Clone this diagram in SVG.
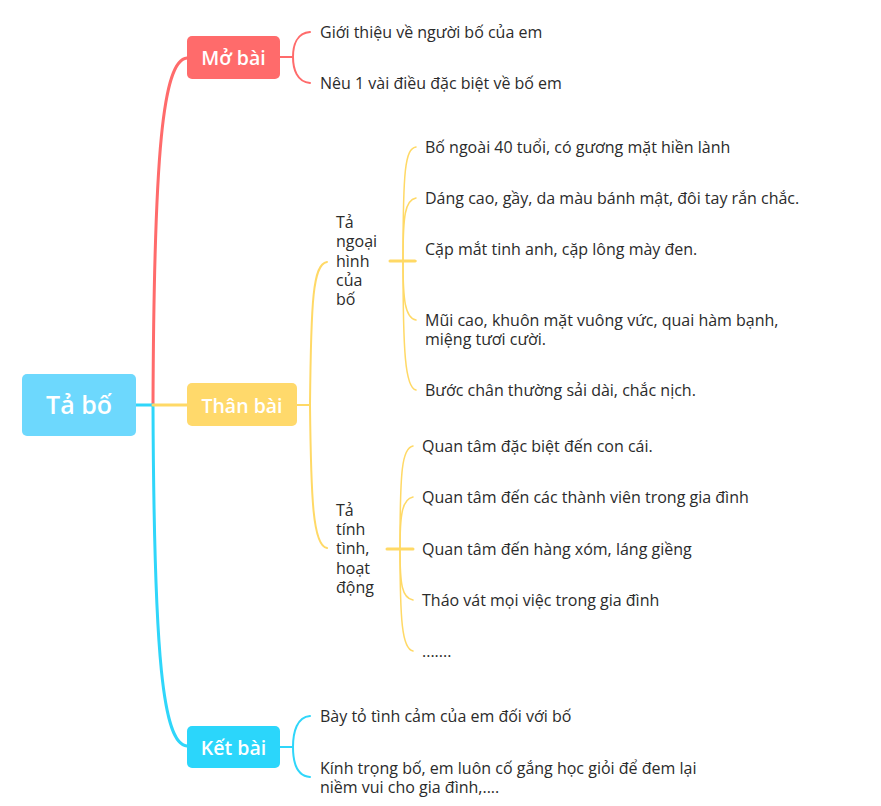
<svg xmlns="http://www.w3.org/2000/svg" width="881" height="806" viewBox="0 0 881 806">
<style>
  .box { rx: 5; ry: 5; }
  .lbl { font-family: "Open Sans", "Noto Sans", "DejaVu Sans", sans-serif; fill: #ffffff; font-weight: 600; text-anchor: middle; dominant-baseline: central; }
  .t { font-family: "Open Sans", "Noto Sans", "DejaVu Sans", sans-serif; font-size: 16px; fill: #2b2b2b; dominant-baseline: central; }
  .red { stroke: #FF6B6B; fill: none; }
  .yel { stroke: #FFD966; fill: none; }
  .blu { stroke: #2FD6FA; fill: none; }
</style>
<rect width="881" height="806" fill="#ffffff"/>
<g id="connectors" stroke-linecap="round">
  <!-- main -->
  <path class="red" stroke-width="3" d="M153,405 C154,150 163,60 187,58"/>
  <path class="blu" stroke-width="3" d="M153,405 C154,660 163,744 187,746"/>
  <path class="blu" stroke-width="3" d="M136,405 L153,405"/>
  <path class="yel" stroke-width="3" d="M153,405 L187,405"/>
  <!-- Mo bai -->
  <path class="red" stroke-width="2" d="M280,57 L293,57"/>
  <path class="red" stroke-width="2" d="M310,32 C297,33 293,45 293,57 C293,69 297,82 310,83"/>
  <!-- Than bai -->
  <path class="yel" stroke-width="2" d="M297,405 L310,405"/>
  <path class="yel" stroke-width="2" d="M310,405 C311,300 313,264 327,262"/>
  <path class="yel" stroke-width="2" d="M310,405 C311,500 313,546 327,548"/>
  <!-- Ta ngoai hinh -->
  <path class="yel" stroke-width="3" d="M390,261 L415,261"/>
  <path class="yel" stroke-width="1.5" d="M403,261 C403,170 405,149 416,147"/>
  <path class="yel" stroke-width="1.5" d="M403,261 C403,215 405,200 416,198"/>
  <path class="yel" stroke-width="1.5" d="M403,261 L416,261"/>
  <path class="yel" stroke-width="1.5" d="M403,261 C403,300 405,318 416,320"/>
  <path class="yel" stroke-width="1.5" d="M403,261 C403,350 405,388 416,390"/>
  <!-- Ta tinh tinh -->
  <path class="yel" stroke-width="3" d="M387,549 L413,549"/>
  <path class="yel" stroke-width="1.5" d="M400,549 C400,470 402,448 413,446"/>
  <path class="yel" stroke-width="1.5" d="M400,549 C400,515 402,499 413,497"/>
  <path class="yel" stroke-width="1.5" d="M400,549 C400,585 402,598 413,600"/>
  <path class="yel" stroke-width="1.5" d="M400,549 C400,620 402,649 413,651"/>
  <!-- Ket bai -->
  <path class="blu" stroke-width="2" d="M280,747 L293,747"/>
  <path class="blu" stroke-width="2" d="M310,716 C297,717 293,732 293,747 C293,762 297,776 310,777"/>
</g>
<g id="root">
  <rect class="box" x="22" y="374" width="114" height="62" fill="#6DD8FD"/>
  <text class="lbl" x="79" y="404" font-size="25">Tả bố</text>
</g>
<g id="mo-bai">
  <rect class="box" x="187" y="36" width="93" height="43" fill="#FF6B6B"/>
  <text class="lbl" x="233.5" y="57" font-size="19.5">Mở bài</text>
  <text class="t" x="320" y="32">Giới thiệu về người bố của em</text>
  <text class="t" x="320" y="83">Nêu 1 vài điều đặc biệt về bố em</text>
</g>
<g id="than-bai">
  <rect class="box" x="187" y="383" width="110" height="43" fill="#FFD96B"/>
  <text class="lbl" x="242" y="405" font-size="19.5">Thân bài</text>
</g>
<g id="ta-ngoai-hinh">
  <text class="t" x="336">
    <tspan x="336" y="222">Tả</tspan>
    <tspan x="336" y="241">ngoại</tspan>
    <tspan x="336" y="261">hình</tspan>
    <tspan x="336" y="280">của</tspan>
    <tspan x="336" y="299">bố</tspan>
  </text>
  <text class="t" x="425" y="147">Bố ngoài 40 tuổi, có gương mặt hiền lành</text>
  <text class="t" x="425" y="198">Dáng cao, gầy, da màu bánh mật, đôi tay rắn chắc.</text>
  <text class="t" x="425" y="249">Cặp mắt tinh anh, cặp lông mày đen.</text>
  <text class="t" x="425" y="320">Mũi cao, khuôn mặt vuông vức, quai hàm bạnh,</text>
  <text class="t" x="425" y="339">miệng tươi cười.</text>
  <text class="t" x="425" y="390">Bước chân thường sải dài, chắc nịch.</text>
</g>
<g id="ta-tinh-tinh">
  <text class="t" x="336">
    <tspan x="336" y="510">Tả</tspan>
    <tspan x="336" y="529">tính</tspan>
    <tspan x="336" y="548">tình,</tspan>
    <tspan x="336" y="568">hoạt</tspan>
    <tspan x="336" y="587">động</tspan>
  </text>
  <text class="t" x="422" y="446">Quan tâm đặc biệt đến con cái.</text>
  <text class="t" x="422" y="497">Quan tâm đến các thành viên trong gia đình</text>
  <text class="t" x="422" y="549">Quan tâm đến hàng xóm, láng giềng</text>
  <text class="t" x="422" y="600">Tháo vát mọi việc trong gia đình</text>
  <text class="t" x="422" y="651">.......</text>
</g>
<g id="ket-bai">
  <rect class="box" x="187" y="726" width="93" height="42" fill="#2BD6FB"/>
  <text class="lbl" x="233.5" y="747" font-size="19.5">Kết bài</text>
  <text class="t" x="320" y="716">Bày tỏ tình cảm của em đối với bố</text>
  <text class="t" x="320" y="768">Kính trọng bố, em luôn cố gắng học giỏi để đem lại</text>
  <text class="t" x="320" y="787">niềm vui cho gia đình,....</text>
</g>
</svg>
